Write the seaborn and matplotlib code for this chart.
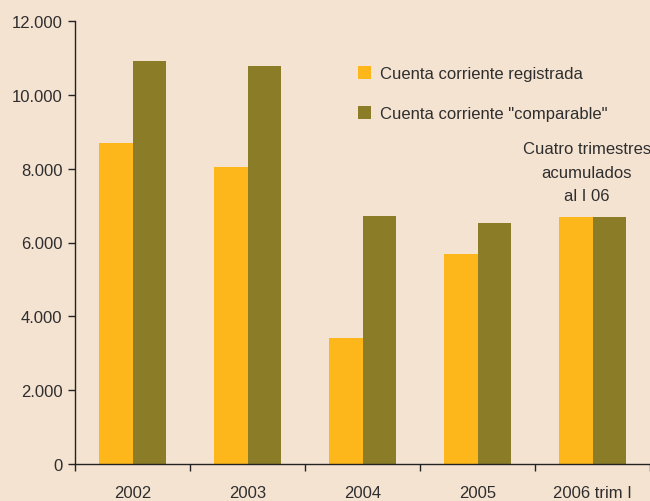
import matplotlib
matplotlib.use("Agg")
import matplotlib.pyplot as plt
import seaborn as sns
import pandas as pd

categories = ["2002", "2003", "2004", "2005", "2006 trim I"]
registrada = [8700, 8050, 3420, 5700, 6700]
comparable = [10920, 10780, 6730, 6540, 6700]
series_names = ["Cuenta corriente registrada", 'Cuenta corriente "comparable"']
yticks = [0, 2000, 4000, 6000, 8000, 10000, 12000]
ytick_labels = ["0", "2.000", "4.000", "6.000", "8.000", "10.000", "12.000"]
note = "Cuatro trimestres\nacumulados\nal I 06"

bg = "#F5E3D2"
colors = ["#FDB71A", "#8B7D27"]
txt = "#2E2E2E"

sns.set_theme(style="white")
plt.rcParams["font.family"] = ["Liberation Sans", "DejaVu Sans"]

df = pd.DataFrame({
    "cat": categories * 2,
    "val": registrada + comparable,
    "serie": [series_names[0]] * len(categories) + [series_names[1]] * len(categories),
})

fig = plt.figure(figsize=(6.5, 5.02), dpi=100, facecolor=bg)
ax = fig.add_axes([75 / 650, 37 / 502, 1 - 75 / 650, (465 - 22) / 502])
ax.set_facecolor(bg)

sns.barplot(data=df, x="cat", y="val", hue="serie", palette=colors,
            width=0.575, saturation=1, ax=ax, edgecolor="none", linewidth=0)

ax.set_xlim(-0.5, len(categories) - 0.5)
ax.set_ylim(0, 12000)
ax.set_yticks(yticks)
ax.set_yticklabels(ytick_labels)
ax.set_xlabel("")
ax.set_ylabel("")

for s in ["top", "right"]:
    ax.spines[s].set_visible(False)
for s in ["left", "bottom"]:
    ax.spines[s].set_color("#222222")
    ax.spines[s].set_linewidth(1.0)

ax.tick_params(axis="y", which="major", direction="out", length=5, width=1,
               color="#222222", labelsize=12, labelcolor=txt, pad=4, left=True)
ax.tick_params(axis="x", which="major", length=0, labelsize=12,
               labelcolor=txt, pad=15)
ax.set_xticks([i - 0.5 for i in range(len(categories) + 1)], minor=True)
ax.tick_params(axis="x", which="minor", direction="out", length=5, width=1,
               color="#222222", bottom=True)

handles, labels = ax.get_legend_handles_labels()
leg = ax.legend(handles, labels, loc="upper left",
                bbox_to_anchor=(358 / 650, 1 - 67 / 502), bbox_transform=fig.transFigure,
                frameon=False, fontsize=12, handlelength=0.8, handleheight=0.8,
                handletextpad=0.55, labelspacing=1.5, borderpad=0, borderaxespad=0)
for t in leg.get_texts():
    t.set_color(txt)

ax.text(3.95, 7900, note, ha="center", va="center", fontsize=12,
        color=txt, linespacing=1.7)

fig.savefig("out.png", dpi=100, facecolor=bg)
